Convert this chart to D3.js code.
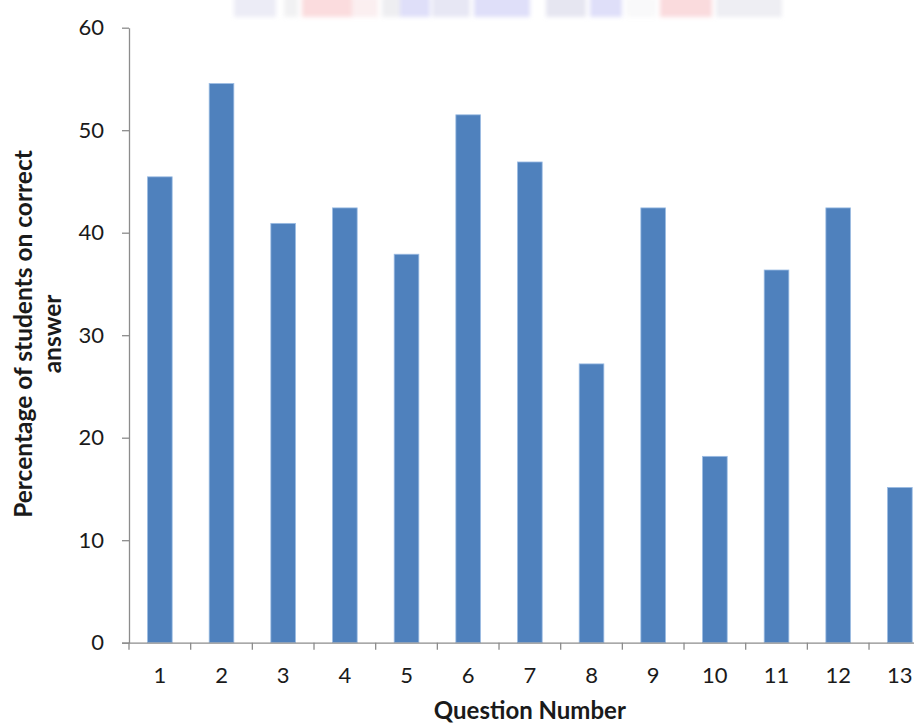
<!DOCTYPE html>
<html>
<head>
<meta charset="utf-8">
<script src="https://cdn.jsdelivr.net/npm/d3@7/dist/d3.min.js"></script>
<style>
  html, body { margin: 0; padding: 0; background: #fff; }
  svg { display: block; font-family: Lato, "Open Sans", sans-serif; }
</style>
</head>
<body>
<div id="chart"></div>
<script>
// Question numbers and share of students answering each one correctly (%)
const questions = [1, 2, 3, 4, 5, 6, 7, 8, 9, 10, 11, 12, 13];
const percentCorrect = [45.45, 54.55, 40.91, 42.42, 37.9, 51.5, 46.9, 27.2, 42.42, 18.18, 36.36, 42.42, 15.15];
const yTicks = [0, 10, 20, 30, 40, 50, 60];
const xTitle = "Question Number";
const yTitleLines = ["Percentage of students on correct", "answer"];

// faded banner strip across the top edge: [x0, x1, colour, opacity]
const banner = [
  [234, 276, "#c9c9e6", 0.35], [284, 298, "#d0d0d8", 0.3],
  [302, 352, "#f4a8ac", 0.4], [352, 378, "#f0c0c4", 0.25],
  [382, 400, "#c8c8d0", 0.3], [400, 430, "#b8b8f2", 0.45],
  [432, 470, "#c4c4e4", 0.4], [474, 530, "#b8b8f2", 0.45],
  [546, 586, "#c0c0dc", 0.4], [590, 622, "#b8b8f2", 0.45],
  [626, 656, "#e0e0e6", 0.2], [660, 712, "#f2a6aa", 0.4],
  [716, 782, "#cfcfdc", 0.35]
];

const W = 914, H = 726;
const svg = d3.select("#chart").append("svg")
  .attr("width", W).attr("height", H);

const defs = svg.append("defs");
defs.append("filter").attr("id", "soft")
  .attr("x", -0.2).attr("y", -0.5).attr("width", 1.4).attr("height", 2)
  .append("feGaussianBlur").attr("stdDeviation", 2);

svg.append("g").attr("filter", "url(#soft)")
  .selectAll("rect").data(banner).join("rect")
  .attr("x", d => d[0]).attr("width", d => d[1] - d[0])
  .attr("y", -4).attr("height", 21)
  .attr("fill", d => d[2]).attr("opacity", d => d[3]);

const plotLeft = 129, plotRight = 930.7, plotTop = 27.7, plotBottom = 642.7;

const x = d3.scaleBand().domain(questions).range([plotLeft, plotRight])
  .paddingInner(0.6).paddingOuter(0.3);
const y = d3.scaleLinear().domain([0, 60]).range([plotBottom, plotTop]);

const axisColor = "#8c8c8c";
const labelColor = "#1a1a1a";

// bars
svg.append("g").selectAll("rect")
  .data(questions.map((q, i) => ({ q, v: percentCorrect[i] })))
  .join("rect")
  .attr("x", d => x(d.q))
  .attr("width", x.bandwidth())
  .attr("y", d => y(d.v))
  .attr("height", d => y(0) - y(d.v))
  .attr("fill", "#4f81bd")
  .attr("stroke", "#9cbce3")
  .attr("stroke-width", 0.8);

// y axis
const yAxis = svg.append("g").attr("transform", `translate(${plotLeft},0)`)
  .call(d3.axisLeft(y).tickValues(yTicks).tickSize(7).tickSizeOuter(0).tickPadding(18));
yAxis.select(".domain").attr("stroke", axisColor).attr("stroke-width", 1.3);
yAxis.selectAll(".tick line").attr("stroke", axisColor).attr("stroke-width", 1.3);
yAxis.selectAll(".tick text").attr("fill", labelColor)
  .style("font-size", "22px").style("font-family", "Lato, sans-serif");

// x axis: labels centred in bands, tick marks on band boundaries
const xAxis = svg.append("g").attr("transform", `translate(0,${plotBottom})`)
  .call(d3.axisBottom(x).tickSize(0).tickPadding(25).tickSizeOuter(0));
xAxis.select(".domain").attr("stroke", axisColor).attr("stroke-width", 1.3)
  .attr("d", `M${plotLeft - 7},0.5H${plotRight}`);
xAxis.selectAll(".tick text").attr("fill", labelColor)
  .style("font-size", "22px").style("font-family", "Lato, sans-serif");

const gap = (x.step() - x.bandwidth()) / 2;
const boundaries = questions.map(q => x(q) - gap)
  .concat([x(questions[questions.length - 1]) + x.bandwidth() + gap]);
xAxis.selectAll(".bound").data(boundaries).join("line")
  .attr("class", "bound")
  .attr("x1", d => d).attr("x2", d => d)
  .attr("y1", 0).attr("y2", 7)
  .attr("stroke", axisColor).attr("stroke-width", 1.3);

// axis titles
svg.append("text")
  .attr("x", (plotLeft + plotRight) / 2).attr("y", 719)
  .attr("text-anchor", "middle")
  .attr("fill", labelColor)
  .style("font-size", "24px").style("font-weight", "bold")
  .text(xTitle);

const yt = svg.append("text")
  .attr("transform", "translate(32,334) rotate(-90)")
  .attr("text-anchor", "middle")
  .attr("fill", labelColor)
  .style("font-size", "24.5px").style("font-weight", "bold");
yt.selectAll("tspan").data(yTitleLines).join("tspan")
  .attr("x", 0).attr("dy", (d, i) => i === 0 ? 0 : 29)
  .text(d => d);
</script>
</body>
</html>
